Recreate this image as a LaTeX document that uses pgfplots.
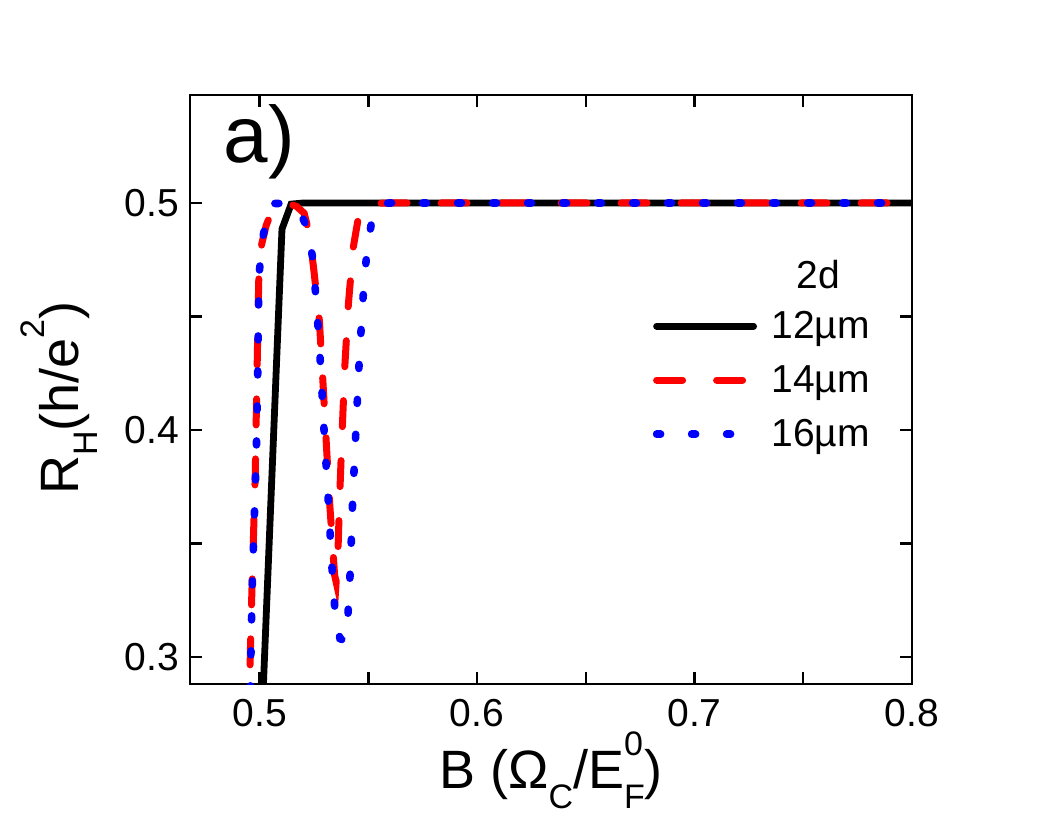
\documentclass[border=0pt]{standalone}
\usepackage{fontspec}
\setmainfont{Liberation Sans}
\usepackage{pgfplots}
\pgfplotsset{compat=1.18}
\newcommand{\lsub}[1]{\raisebox{-0.36em}{\fontsize{17}{17}\selectfont #1}}
\newcommand{\lsup}[1]{\raisebox{0.62em}{\fontsize{17}{17}\selectfont #1}}
\begin{document}
\begin{tikzpicture}
\begin{axis}[
  scale only axis, width=361pt, height=294.5pt,
  xmin=0.468, xmax=0.8, ymin=0.288, ymax=0.5476,
  xtick={0.5,0.6,0.7,0.8}, ytick={0.3,0.4,0.5},
  minor xtick={0.55,0.65,0.75}, minor ytick={0.35,0.45},
  tick align=inside, major tick length=6pt, minor tick length=6pt,
  every tick/.style={black, line width=1.2pt},
  axis line style={line width=1.3pt},
  /pgf/number format/assume math mode=true,
  ticklabel style={font=\fontsize{19.5}{19.5}\selectfont},
  xticklabel style={yshift=-4pt},
  yticklabel style={xshift=-2pt},
  xlabel={B (Ω\lsub{C}/E\makebox[0pt][l]{\lsup{0}}\lsub{F})},
  ylabel={R\lsub{H}(h/e\lsup{2})},
  label style={font=\fontsize{27}{27}\selectfont},
  xlabel style={at={(axis description cs:0.5,-0.178)}, anchor=base},
  ylabel style={at={(axis description cs:-0.155,0.4856)}, anchor=base},
  legend style={draw=none, fill=none, at={(axis description cs:0.641,0.640)}, anchor=north west,
    inner sep=0pt, outer sep=0pt, font=\fontsize{19.5}{19.5}\selectfont,
    row sep=8pt, column sep=5pt},
  legend image code/.code={\draw[#1] (0pt,0pt) -- (48.5pt,0pt);},
  legend cell align=left,
]
\addplot[black, line width=3.4pt, line cap=round] coordinates {
(0.5010,0.270) (0.5103,0.4885) (0.5145,0.4995) (0.5200,0.5000) (0.6000,0.5000) (0.7000,0.5000) (0.8000,0.5000)
};
\addlegendentry{12µm}
\addplot[red, line width=3.5pt, line cap=round, dash pattern=on 13pt off 17pt] coordinates {
(0.4950,0.270) (0.4962,0.320) (0.4980,0.380) (0.4991,0.440) (0.4997,0.470) (0.5010,0.482)
(0.5030,0.490) (0.5060,0.4975) (0.5095,0.4995) (0.5130,0.4998) (0.5170,0.4985) (0.5205,0.4955)
(0.5230,0.486) (0.5250,0.470) (0.5275,0.448) (0.5292,0.420) (0.5308,0.392) (0.5322,0.368)
(0.5335,0.350) (0.5345,0.336) (0.5352,0.333) (0.5360,0.345) (0.5368,0.370) (0.5380,0.400)
(0.5392,0.428) (0.5408,0.455) (0.5430,0.480) (0.5455,0.494) (0.5500,0.4998) (0.5600,0.5000)
(0.7000,0.5000) (0.8000,0.5000)
};
\addlegendentry{14µm}
\addplot[blue, line width=3.8pt, line cap=round, dash pattern=on 2pt off 15.5pt] coordinates {
(0.4955,0.270) (0.4960,0.300) (0.4965,0.327) (0.4975,0.359) (0.4985,0.390) (0.4991,0.422)
(0.4995,0.454) (0.4998,0.469) (0.5015,0.485) (0.5040,0.496) (0.5065,0.4998) (0.5090,0.4998)
(0.5140,0.4990) (0.5185,0.4960) (0.5215,0.490) (0.5244,0.476) (0.5262,0.455) (0.5280,0.429)
(0.5298,0.397) (0.5317,0.367) (0.5336,0.334) (0.5350,0.316) (0.5370,0.308) (0.5390,0.307)
(0.5405,0.316) (0.5417,0.338) (0.5428,0.369) (0.5443,0.400) (0.5459,0.432) (0.5479,0.463)
(0.5494,0.479) (0.5521,0.4953) (0.5560,0.4998) (0.5600,0.5000) (0.7000,0.5000) (0.8000,0.5000)
};
\addlegendentry{16µm}
\node[anchor=base, font=\fontsize{19.5}{19.5}\selectfont] at (axis description cs:0.870,0.672) {2d};
\node[anchor=base west, inner sep=0pt, font=\fontsize{40}{40}\selectfont] at (axis description cs:0.046,0.885) {a)};
\coordinate (bl) at (rel axis cs:0,0);
\coordinate (tr) at (rel axis cs:1,1);
\end{axis}
\pgfresetboundingbox
\path[use as bounding box] ([xshift=-95pt,yshift=-68pt]bl) rectangle ([xshift=74.5pt,yshift=47.5pt]tr);
\end{tikzpicture}
\end{document}
